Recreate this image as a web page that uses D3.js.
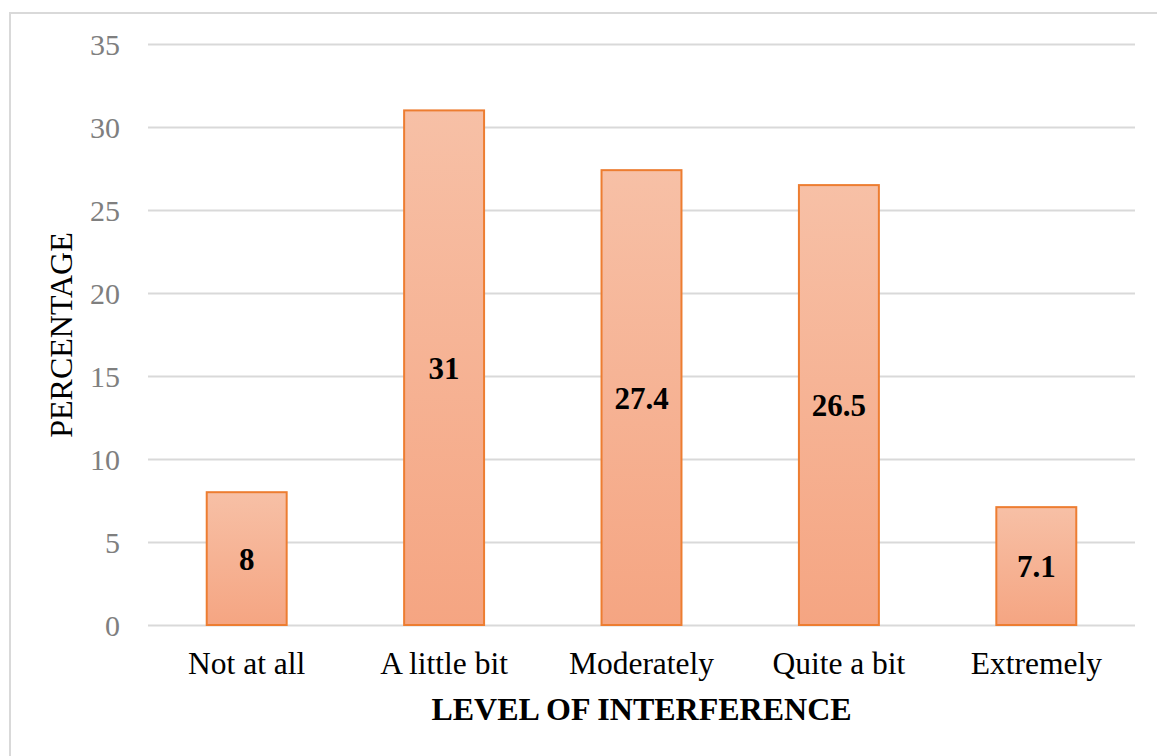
<!DOCTYPE html>
<html>
<head>
<meta charset="utf-8">
<script src="https://cdnjs.cloudflare.com/ajax/libs/d3/7.8.5/d3.min.js"></script>
<style>
  html, body { margin: 0; padding: 0; background: #fff; }
  svg { display: block; }
</style>
</head>
<body>
<svg id="chart" width="1157" height="756"></svg>
<script>
// Share of respondents by level of interference
const categories = ["Not at all", "A little bit", "Moderately", "Quite a bit", "Extremely"];
const values = [8, 31, 27.4, 26.5, 7.1];
const yTicks = [0, 5, 10, 15, 20, 25, 30, 35];

const width = 1157, height = 756;
const margin = { left: 148, right: 22, top: 44, bottom: 131 };
const serif = "'Liberation Serif', 'Times New Roman', serif";

const svg = d3.select("#chart");

// outer frame (top and left edges only fall inside the canvas)
svg.append("path")
  .attr("d", `M10,${height + 5} L10,13 L${width + 5},13`)
  .attr("fill", "none")
  .attr("stroke", "#d9d9d9")
  .attr("stroke-width", 2);

const x = d3.scaleBand()
  .domain(categories)
  .range([margin.left, width - margin.right])
  .paddingInner(0.595)
  .paddingOuter(0.2975);

const y = d3.scaleLinear()
  .domain([0, 35])
  .range([height - margin.bottom, margin.top]);

// gridlines
svg.append("g")
  .selectAll("line")
  .data(yTicks)
  .join("line")
  .attr("x1", margin.left)
  .attr("x2", width - margin.right)
  .attr("y1", d => Math.round(y(d)) + 0.5)
  .attr("y2", d => Math.round(y(d)) + 0.5)
  .attr("stroke", "#d9d9d9")
  .attr("stroke-width", 2);

// y tick labels
svg.append("g")
  .selectAll("text")
  .data(yTicks)
  .join("text")
  .attr("x", 120)
  .attr("y", d => y(d) + 11)
  .attr("text-anchor", "end")
  .attr("font-family", serif)
  .attr("font-size", 30)
  .attr("fill", "#7f7f7f")
  .text(d => d);

// bar fill gradient
const defs = svg.append("defs");
const grad = defs.append("linearGradient")
  .attr("id", "barFill")
  .attr("x1", 0).attr("y1", 0).attr("x2", 0).attr("y2", 1);
grad.append("stop").attr("offset", "0%").attr("stop-color", "#f7c0a6");
grad.append("stop").attr("offset", "100%").attr("stop-color", "#f5a582");

// bars
svg.append("g")
  .selectAll("rect")
  .data(categories)
  .join("rect")
  .attr("x", d => x(d))
  .attr("width", x.bandwidth())
  .attr("y", (d, i) => y(values[i]))
  .attr("height", (d, i) => y(0) - y(values[i]))
  .attr("fill", "url(#barFill)")
  .attr("stroke", "#ed7d31")
  .attr("stroke-width", 2);

// value labels, centred in each bar
svg.append("g")
  .selectAll("text")
  .data(categories)
  .join("text")
  .attr("x", d => x(d) + x.bandwidth() / 2)
  .attr("y", (d, i) => y(values[i] / 2) + 11)
  .attr("text-anchor", "middle")
  .attr("font-family", serif)
  .attr("font-size", 31)
  .attr("font-weight", "bold")
  .attr("fill", "#000")
  .text((d, i) => values[i]);

// category labels
svg.append("g")
  .selectAll("text")
  .data(categories)
  .join("text")
  .attr("x", d => x(d) + x.bandwidth() / 2)
  .attr("y", 674)
  .attr("text-anchor", "middle")
  .attr("font-family", serif)
  .attr("font-size", 31.5)
  .attr("fill", "#000")
  .text(d => d);

// axis titles
svg.append("text")
  .attr("x", (margin.left + width - margin.right) / 2)
  .attr("y", 720)
  .attr("text-anchor", "middle")
  .attr("font-family", serif)
  .attr("font-size", 32)
  .attr("font-weight", "bold")
  .attr("fill", "#000")
  .text("LEVEL OF INTERFERENCE");

svg.append("text")
  .attr("transform", "translate(72,335) rotate(-90)")
  .attr("text-anchor", "middle")
  .attr("font-family", serif)
  .attr("font-size", 32)
  .attr("fill", "#000")
  .text("PERCENTAGE");
</script>
</body>
</html>
